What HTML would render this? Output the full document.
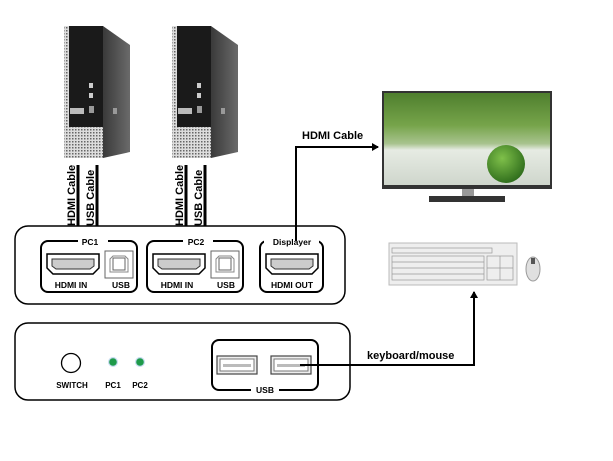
<!DOCTYPE html>
<html><head><meta charset="utf-8"><style>
html,body{margin:0;padding:0;background:#fff}
svg{display:block}
text{font-family:"Liberation Sans",sans-serif;font-weight:bold;fill:#000}
</style></head><body>
<svg width="613" height="461" viewBox="0 0 613 461" xmlns="http://www.w3.org/2000/svg">
<defs>
<linearGradient id="side" x1="0" x2="1"><stop offset="0" stop-color="#3a3a3a"/><stop offset="1" stop-color="#6a6a6a"/></linearGradient>
<pattern id="grill" width="3" height="3" patternUnits="userSpaceOnUse"><rect width="3" height="3" fill="#ddd"/><rect width="1.5" height="1.5" fill="#666"/></pattern>
<linearGradient id="scr" x1="0" y1="0" x2="0" y2="1"><stop offset="0" stop-color="#4f7f2e"/><stop offset="0.35" stop-color="#76a44a"/><stop offset="0.55" stop-color="#a8c38e"/><stop offset="0.62" stop-color="#e6ebe3"/><stop offset="1" stop-color="#cfd6cc"/></linearGradient>
<radialGradient id="lime" cx="0.4" cy="0.35" r="0.7"><stop offset="0" stop-color="#7fc04a"/><stop offset="1" stop-color="#2c6a1a"/></radialGradient>
<marker id="ah" markerWidth="8" markerHeight="8" refX="6" refY="4" orient="auto" markerUnits="userSpaceOnUse"><path d="M0,0 L7,4 L0,8 Z" fill="#000"/></marker>
<g id="tower">
  <polygon points="103,26 130,45 130,152 103,158" fill="url(#side)"/>
  <rect x="64" y="26" width="39" height="132" fill="#1a1a1a"/>
  <rect x="64" y="26" width="5" height="104" fill="url(#grill)"/>
  <rect x="64" y="127" width="39" height="31" fill="url(#grill)"/>
  <rect x="70" y="108" width="14" height="6" fill="#bbb"/>
  <rect x="89" y="83" width="4" height="5" fill="#ccc"/>
  <rect x="89" y="93" width="4" height="5" fill="#ccc"/>
  <rect x="89" y="106" width="5" height="7" fill="#999"/>
  <rect x="113" y="108" width="4" height="6" fill="#999"/>
</g>
<g id="hdmi">
  <path d="M0,0 H52 V14 L46,20 H6 L0,14 Z" fill="#fff" stroke="#000" stroke-width="1.5"/>
  <path d="M5,5 H47 V12 L43,15 H9 L5,12 Z" fill="#ccc" stroke="#333" stroke-width="1"/>
</g>
<g id="usbb">
  <rect x="0" y="0" width="28" height="27" fill="#fff" stroke="#666" stroke-width="1"/>
  <path d="M8,7 H20 V19 H8 Z" fill="none" stroke="#666"/>
  <path d="M5,8 L8,5 H20 L23,8 V21 H5 Z" fill="none" stroke="#888"/>
</g>
<g id="usba">
  <rect x="0" y="0" width="40" height="18" fill="#eee" stroke="#444" stroke-width="1.2"/>
  <rect x="3" y="3" width="34" height="12" fill="#fff" stroke="#777"/>
  <rect x="6" y="8" width="28" height="3" fill="#bbb"/>
</g>
</defs>

<use href="#tower"/>
<use href="#tower" x="108"/>

<g stroke="#000" stroke-width="3" fill="none">
<line x1="78" y1="165" x2="78" y2="232" marker-end="url(#ah)"/>
<line x1="97" y1="165" x2="97" y2="232" marker-end="url(#ah)"/>
<line x1="186" y1="165" x2="186" y2="232" marker-end="url(#ah)"/>
<line x1="205" y1="165" x2="205" y2="232" marker-end="url(#ah)"/>
</g>
<g font-size="11">
<text transform="translate(75,226) rotate(-90)">HDMI Cable</text>
<text transform="translate(94,226) rotate(-90)">USB Cable</text>
<text transform="translate(183,226) rotate(-90)">HDMI Cable</text>
<text transform="translate(202,226) rotate(-90)">USB Cable</text>
</g>

<rect x="15" y="226" width="330" height="78" rx="13" fill="#fff" stroke="#000" stroke-width="1.5"/>
<rect x="41" y="241" width="96" height="51" rx="7" fill="none" stroke="#000" stroke-width="2"/>
<rect x="147" y="241" width="96" height="51" rx="7" fill="none" stroke="#000" stroke-width="2"/>
<rect x="260" y="241" width="63" height="51" rx="7" fill="none" stroke="#000" stroke-width="2"/>
<rect x="78" y="236" width="30" height="10" fill="#fff"/>
<rect x="183" y="236" width="30" height="10" fill="#fff"/>
<rect x="264" y="236" width="55" height="10" fill="#fff"/>
<g font-size="8.5" text-anchor="middle">
<text x="90" y="245">PC1</text>
<text x="196" y="245">PC2</text>
<text x="292" y="245">Displayer</text>
<text x="71" y="288">HDMI IN</text>
<text x="121" y="288">USB</text>
<text x="177" y="288">HDMI IN</text>
<text x="226" y="288">USB</text>
<text x="292" y="288">HDMI OUT</text>
</g>
<use href="#hdmi" x="47" y="254"/>
<use href="#usbb" x="105" y="251"/>
<use href="#hdmi" x="153" y="254"/>
<use href="#usbb" x="211" y="251"/>
<use href="#hdmi" x="266" y="254"/>

<polyline points="296,241 296,147 378,147" fill="none" stroke="#000" stroke-width="2" marker-end="url(#ah)"/>
<text x="302" y="139" font-size="11">HDMI Cable</text>

<rect x="382" y="91" width="170" height="98" fill="#333"/>
<rect x="384" y="93" width="166" height="92" fill="url(#scr)"/>
<circle cx="506" cy="164" r="19" fill="url(#lime)"/>
<rect x="462" y="189" width="12" height="7" fill="#999"/>
<rect x="429" y="196" width="76" height="6" fill="#333"/>

<rect x="389" y="243" width="128" height="42" fill="#eee" stroke="#bbb"/>
<g fill="none" stroke="#999" stroke-width="0.7">
<rect x="392" y="248" width="100" height="5"/>
<rect x="392" y="256" width="92" height="24"/>
<line x1="392" y1="262" x2="484" y2="262"/><line x1="392" y1="268" x2="484" y2="268"/><line x1="392" y1="274" x2="484" y2="274"/>
<rect x="487" y="256" width="26" height="24"/>
<line x1="500" y1="256" x2="500" y2="280"/><line x1="487" y1="268" x2="513" y2="268"/>
</g>
<ellipse cx="533" cy="269" rx="7" ry="12" fill="#e0e0e0" stroke="#999"/>
<rect x="531" y="258" width="4" height="6" fill="#555"/>

<rect x="15" y="323" width="335" height="77" rx="13" fill="#fff" stroke="#000" stroke-width="1.5"/>
<circle cx="71" cy="363" r="9.5" fill="#fff" stroke="#000" stroke-width="1.3"/>
<circle cx="113" cy="362" r="5" fill="#9ec3e6" opacity="0.6"/>
<circle cx="113" cy="362" r="3.8" fill="#1e9a4a"/>
<circle cx="140" cy="362" r="5" fill="#9ec3e6" opacity="0.6"/>
<circle cx="140" cy="362" r="3.8" fill="#1e9a4a"/>
<g font-size="8" text-anchor="middle">
<text x="72" y="388">SWITCH</text>
<text x="113" y="388">PC1</text>
<text x="140" y="388">PC2</text>
</g>
<rect x="212" y="340" width="106" height="50" rx="7" fill="none" stroke="#000" stroke-width="2"/>
<rect x="251" y="385" width="28" height="10" fill="#fff"/>
<text x="265" y="393" font-size="8.5" text-anchor="middle">USB</text>
<use href="#usba" x="217" y="356"/>
<use href="#usba" x="271" y="356"/>
<polyline points="300,365 474,365 474,292" fill="none" stroke="#000" stroke-width="2" marker-end="url(#ah)"/>
<text x="367" y="359" font-size="11">keyboard/mouse</text>
</svg>
</body></html>
